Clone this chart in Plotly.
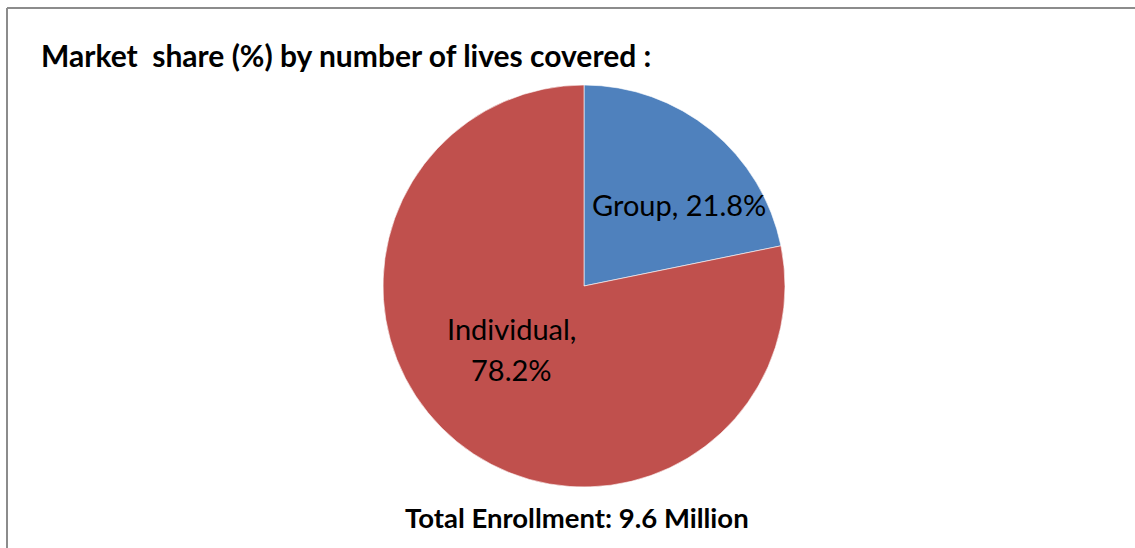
import plotly.graph_objects as go

W, H = 1135, 548

labels = ["Group", "Individual"]
values = [21.8, 78.2]
colors = ["#4F81BD", "#C0504D"]
title_text = "Market  share (%) by number of lives covered :"
footer_text = "Total Enrollment: 9.6 Million"

def px(x):
    return x / W

def py(y):
    return 1 - y / H

fig = go.Figure()
fig.add_trace(go.Pie(
    labels=labels,
    values=values,
    marker=dict(colors=colors, line=dict(color="white", width=0.6)),
    sort=False,
    direction="clockwise",
    rotation=0,
    textinfo="none",
    hoverinfo="label+percent",
    showlegend=False,
    domain=dict(x=[px(383), px(785)], y=[py(487), py(85)]),
))

label_font = dict(family="Lato, Open Sans, sans-serif", size=29, color="black")
fig.add_annotation(
    x=px(679), y=py(205), xref="paper", yref="paper",
    text=f"{labels[0]}, {values[0]:.1f}%", showarrow=False,
    xanchor="center", yanchor="middle", font=label_font,
)
fig.add_annotation(
    x=px(511), y=py(328), xref="paper", yref="paper",
    text=f"{labels[1]},", showarrow=False,
    xanchor="center", yanchor="middle", font=label_font,
)
fig.add_annotation(
    x=px(511), y=py(369), xref="paper", yref="paper",
    text=f"{values[1]:.1f}%", showarrow=False,
    xanchor="center", yanchor="middle", font=label_font,
)

fig.add_annotation(
    x=px(39), y=py(55), xref="paper", yref="paper",
    text=f"<b>{title_text}</b>", showarrow=False,
    xanchor="left", yanchor="middle",
    font=dict(family="Lato, Open Sans, sans-serif", size=30, color="black"),
)
fig.add_annotation(
    x=px(577), y=py(517), xref="paper", yref="paper",
    text=f"<b>{footer_text}</b>", showarrow=False,
    xanchor="center", yanchor="middle",
    font=dict(family="Lato, Open Sans, sans-serif", size=27.5, color="black"),
)

# frame (top and left edges visible)
fig.add_shape(type="line", xref="paper", yref="paper",
              x0=px(7), x1=1.01, y0=py(8), y1=py(8),
              line=dict(color="#8C8C8C", width=2))
fig.add_shape(type="line", xref="paper", yref="paper",
              x0=px(7), x1=px(7), y0=py(8), y1=-0.01,
              line=dict(color="#8C8C8C", width=2))

fig.update_layout(
    width=W, height=H,
    margin=dict(l=0, r=0, t=0, b=0),
    paper_bgcolor="white",
    plot_bgcolor="white",
)

fig.write_html(
    "out.html",
    config={"displayModeBar": False},
    post_script="document.body.style.margin='0';document.body.style.overflow='hidden';",
)
